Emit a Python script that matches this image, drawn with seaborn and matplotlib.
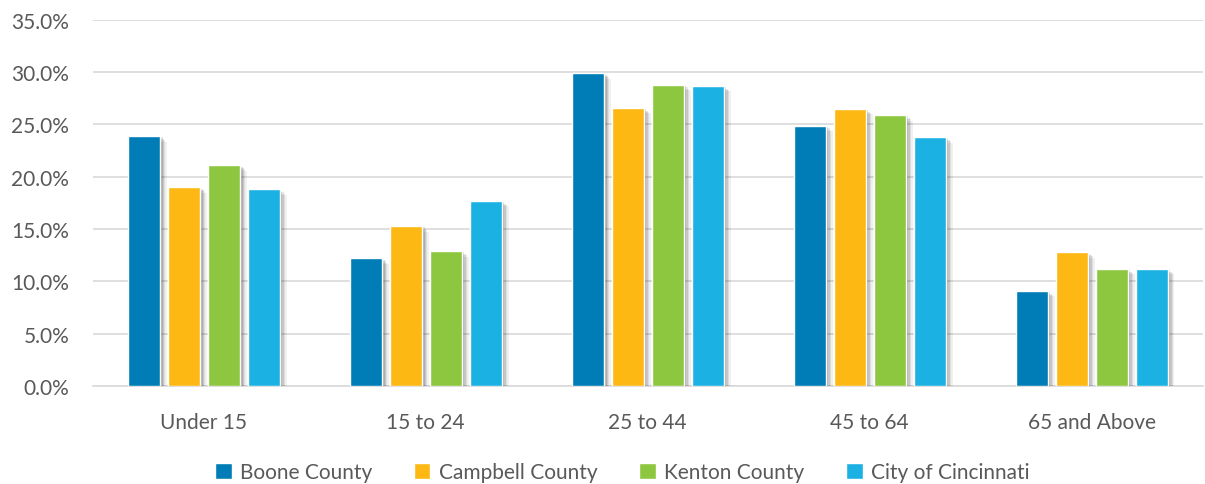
"""Age distribution by county, grouped bar chart."""
import matplotlib.pyplot as plt
import matplotlib.patheffects as pe
import pandas as pd
import seaborn as sns
from matplotlib.ticker import PercentFormatter

age_groups = ["Under 15", "15 to 24", "25 to 44", "45 to 64", "65 and Above"]
boone = [23.9, 12.2, 29.9, 24.9, 9.1]
campbell = [19.0, 15.3, 26.6, 26.5, 12.8]
kenton = [21.1, 12.9, 28.8, 25.9, 11.2]
cincinnati = [18.8, 17.7, 28.7, 23.8, 11.2]

series = {
    "Boone County": boone,
    "Campbell County": campbell,
    "Kenton County": kenton,
    "City of Cincinnati": cincinnati,
}
colors = ["#007DB6", "#FDB813", "#8DC63F", "#1CB1E3"]

dataf = pd.DataFrame(
    [
        {"age": age, "area": name, "share": val}
        for name, vals in series.items()
        for age, val in zip(age_groups, vals)
    ]
)

sns.set_theme(style="white")
plt.rcParams["font.family"] = ["Lato", "DejaVu Sans"]

fig, ax = plt.subplots(figsize=(12.05, 4.85), dpi=100)
fig.subplots_adjust(left=0.077, right=0.998, top=0.957, bottom=0.202)

sns.barplot(
    data=dataf, x="age", y="share", hue="area", palette=colors,
    saturation=1, width=0.72, gap=0.2, ax=ax, zorder=3,
)

# soft drop shadow, like the office chart style
shadow = [
    pe.SimplePatchShadow(offset=(5, -4), shadow_rgbFace="#000000", alpha=0.06),
    pe.SimplePatchShadow(offset=(4, -3), shadow_rgbFace="#000000", alpha=0.08),
    pe.SimplePatchShadow(offset=(3, -2), shadow_rgbFace="#000000", alpha=0.10),
    pe.SimplePatchShadow(offset=(2, -1), shadow_rgbFace="#000000", alpha=0.12),
    pe.Normal(),
]
for bar in ax.patches:
    bar.set_path_effects(shadow)

ax.set_ylim(0, 35)
ax.set_yticks(range(0, 36, 5))
ax.yaxis.set_major_formatter(PercentFormatter(decimals=1))
ax.grid(axis="y", color="#D9D9D9", linewidth=1.2, zorder=0)
ax.set_axisbelow(True)
for side in ("top", "right", "left"):
    ax.spines[side].set_visible(False)
ax.spines["bottom"].set_color("#D9D9D9")
ax.spines["bottom"].set_linewidth(1.2)
ax.set_xlabel("")
ax.set_ylabel("")
ax.tick_params(axis="both", length=0, labelsize=15, labelcolor="#595959")
ax.tick_params(axis="x", pad=19)
ax.tick_params(axis="y", pad=17)

handles, labels = ax.get_legend_handles_labels()
leg = ax.legend(
    handles, labels, loc="center", bbox_to_anchor=(0.477, -0.235),
    ncol=4, frameon=False, fontsize=15, labelcolor="#595959",
    handlelength=0.8, handleheight=0.8, handletextpad=0.4, columnspacing=2.0,
)
for h in leg.legend_handles:
    h.set_path_effects([])

fig.savefig("out.png", dpi=100)
